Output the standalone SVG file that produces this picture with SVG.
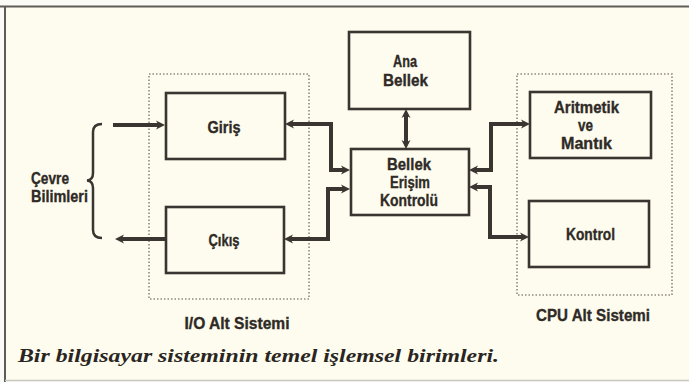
<svg xmlns="http://www.w3.org/2000/svg" width="689" height="382" viewBox="0 0 689 382">
<style>
.box{fill:none;stroke:#3a3530;stroke-width:2.6}
.dot{fill:none;stroke:#8e897e;stroke-width:1.6;stroke-dasharray:1.5 2}
.con{fill:none;stroke:#3a3530;stroke-width:4}
.lbl{font-family:"Liberation Sans",Arial,sans-serif;font-weight:bold;font-size:17px;fill:#2f2a26;stroke:#2f2a26;stroke-width:0.35;text-anchor:middle}
.lft{text-anchor:start}
.cap{font-family:"Liberation Serif","Times New Roman",serif;font-weight:bold;font-style:italic;font-size:19.5px;fill:#2a2522}
</style>
<defs>
<marker id="ah" markerUnits="userSpaceOnUse" markerWidth="12" markerHeight="12" refX="5" refY="5" orient="auto-start-reverse" overflow="visible">
<path d="M0,0.5 L9,5 L0,9.5 L2.5,5 Z" fill="#3a3530"/>
</marker>
</defs>
<rect x="0" y="0" width="689" height="382" fill="#fafaf7"/>
<rect x="5" y="6" width="684" height="374" fill="#fdfcee"/>
<line x1="0" y1="6.5" x2="689" y2="6.5" stroke="#5e5c58" stroke-width="2"/>
<line x1="5" y1="6" x2="5" y2="382" stroke="#5e5c58" stroke-width="2"/>
<line x1="5" y1="380.5" x2="689" y2="380.5" stroke="#c9c8c2" stroke-width="1.5"/>

<g id="io-subsystem">
<rect class="dot" x="149" y="74" width="160" height="225"/>
<text class="lbl" x="237" y="329" textLength="105" lengthAdjust="spacingAndGlyphs">I/O Alt Sistemi</text>
</g>
<g id="cpu-subsystem">
<rect class="dot" x="517" y="74" width="155" height="221"/>
<text class="lbl" x="593" y="321" textLength="114" lengthAdjust="spacingAndGlyphs">CPU Alt Sistemi</text>
</g>

<g id="cevre">
<text class="lbl lft" x="31" y="184" textLength="38" lengthAdjust="spacingAndGlyphs">Çevre</text>
<text class="lbl lft" x="31" y="202" textLength="57" lengthAdjust="spacingAndGlyphs">Bilimleri</text>
<path d="M102,124 Q93,124 93,132 V173 Q93,180 87,180.5 Q93,181 93,188 V230 Q93,238 102,238" fill="none" stroke="#3a3530" stroke-width="2.5"/>
</g>

<g id="giris">
<rect class="box" x="166" y="93" width="119" height="66"/>
<text class="lbl" x="224" y="133" textLength="33" lengthAdjust="spacingAndGlyphs">Giriş</text>
</g>
<g id="cikis">
<rect class="box" x="166" y="207" width="118" height="66"/>
<text class="lbl" x="224" y="246" textLength="31" lengthAdjust="spacingAndGlyphs">Çıkış</text>
</g>
<g id="ana-bellek">
<rect class="box" x="349" y="32" width="121" height="77"/>
<text class="lbl" x="405" y="67" textLength="24" lengthAdjust="spacingAndGlyphs">Ana</text>
<text class="lbl" x="405.5" y="86" textLength="45" lengthAdjust="spacingAndGlyphs">Bellek</text>
</g>
<g id="bellek-erisim">
<rect class="box" x="351" y="149" width="118" height="66"/>
<text class="lbl" x="409" y="170" textLength="44" lengthAdjust="spacingAndGlyphs">Bellek</text>
<text class="lbl" x="410" y="188" textLength="40" lengthAdjust="spacingAndGlyphs">Erişim</text>
<text class="lbl" x="409" y="206" textLength="58" lengthAdjust="spacingAndGlyphs">Kontrolü</text>
</g>
<g id="aritmetik">
<rect class="box" x="530" y="92" width="121" height="66"/>
<text class="lbl" x="586.5" y="113" textLength="65" lengthAdjust="spacingAndGlyphs">Aritmetik</text>
<text class="lbl" x="585.5" y="131" textLength="15" lengthAdjust="spacingAndGlyphs">ve</text>
<text class="lbl" x="586.5" y="149" textLength="51" lengthAdjust="spacingAndGlyphs">Mantık</text>
</g>
<g id="kontrol">
<rect class="box" x="529" y="201" width="120" height="66"/>
<text class="lbl" x="590.5" y="240" textLength="49" lengthAdjust="spacingAndGlyphs">Kontrol</text>
</g>

<g id="connectors">
<path class="con" d="M113,125 H161" marker-end="url(#ah)"/>
<path class="con" d="M166,239 H119" marker-end="url(#ah)"/>
<path class="con" d="M346,170 H331 V124 H289" marker-start="url(#ah)" marker-end="url(#ah)"/>
<path class="con" d="M346,189 H328 V239 H288" marker-start="url(#ah)" marker-end="url(#ah)"/>
<path class="con" d="M406,113 V145" marker-start="url(#ah)" marker-end="url(#ah)"/>
<path class="con" d="M473,170 H491 V124 H526" marker-start="url(#ah)" marker-end="url(#ah)"/>
<path class="con" d="M473,187 H490 V237 H525" marker-start="url(#ah)" marker-end="url(#ah)"/>
</g>

<text class="cap" x="18" y="362" textLength="481" lengthAdjust="spacingAndGlyphs">Bir bilgisayar sisteminin temel işlemsel birimleri.</text>
</svg>
